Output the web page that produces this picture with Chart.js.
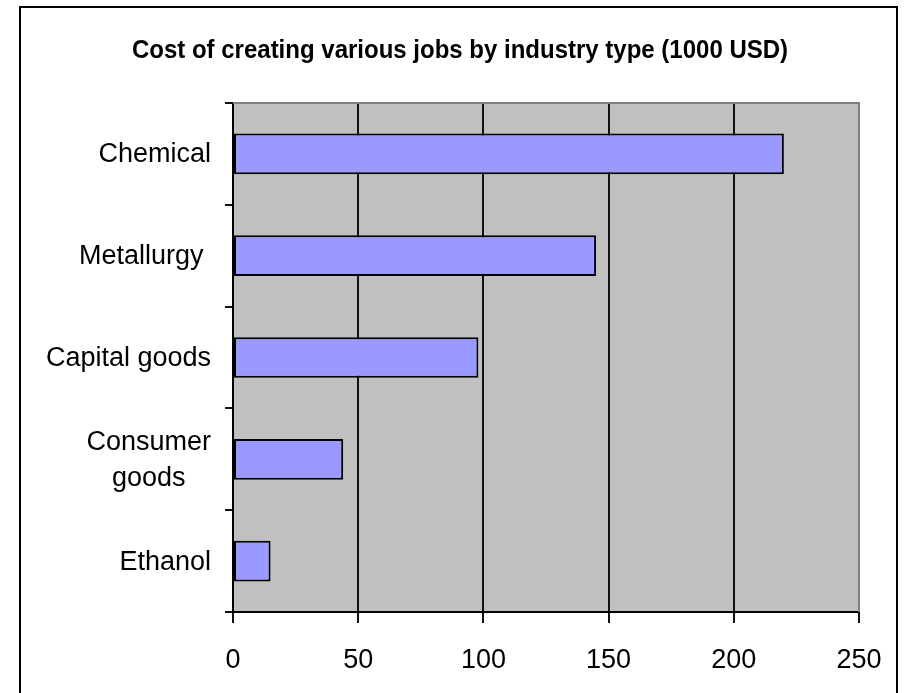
<!DOCTYPE html>
<html lang="en">
<head>
  <meta charset="UTF-8" />
  <title>Cost of creating various jobs by industry type</title>
  <script src="https://cdn.jsdelivr.net/npm/chart.js"></script>
  <style>
    body { margin: 0; background: #fff; }
    #chart { display: block; }
  </style>
</head>
<body>
<canvas id="chart" width="908" height="693"></canvas>

<script>
  const titleText = 'Cost of creating various jobs by industry type (1000 USD)';
  const industries = [['Chemical'], ['Metallurgy '], ['Capital goods'], ['Consumer', 'goods'], ['Ethanol']];
  const costs = [220, 145, 98, 44, 15];
  const xTicks = [0, 50, 100, 150, 200, 250];

  const FONT = "'Liberation Sans', Arial, sans-serif";

  // gray plot area, outer frame, title and the y labels
  const decor = {
    id: 'decor',
    beforeDraw(chart) {
      const { ctx, chartArea: a } = chart;
      ctx.save();
      ctx.fillStyle = '#fff';
      ctx.fillRect(0, 0, chart.width, chart.height);
      ctx.fillStyle = '#C0C0C0';
      ctx.fillRect(a.left, a.top, a.right - a.left, a.bottom - a.top);
      ctx.restore();
    },
    beforeDatasetsDraw(chart) {
      const { ctx, chartArea: a } = chart;
      ctx.save();
      ctx.strokeStyle = '#808080';
      ctx.lineWidth = 2;
      ctx.beginPath();
      ctx.moveTo(a.left, a.top);
      ctx.lineTo(a.right, a.top);
      ctx.lineTo(a.right, a.bottom);
      ctx.stroke();
      ctx.restore();
    },
    afterDraw(chart) {
      const { ctx } = chart;
      ctx.save();
      ctx.strokeStyle = '#000';
      ctx.lineWidth = 2;
      ctx.strokeRect(20, 7, 877, 720);

      // title, a bit stretched vertically like the original
      ctx.save();
      ctx.fillStyle = '#000';
      ctx.font = 'bold 24px ' + FONT;
      ctx.textAlign = 'center';
      ctx.textBaseline = 'alphabetic';
      ctx.translate(460, 58);
      ctx.scale(1, 1.1);
      ctx.fillText(titleText, 0, 0);
      ctx.restore();

      // category labels: block right-aligned, lines centred in the block
      const y = chart.scales.y;
      ctx.fillStyle = '#000';
      ctx.textAlign = 'center';
      ctx.textBaseline = 'middle';
      ctx.font = '27px ' + FONT;
      const right = 211;
      const lh = 36;
      industries.forEach((lines, i) => {
        const cy = y.getPixelForValue(i);
        const w = Math.max(...lines.map(s => ctx.measureText(s).width));
        const cx = right - w / 2;
        lines.forEach((s, j) => {
          ctx.fillText(s, cx, cy + (j - (lines.length - 1) / 2) * lh + 1);
        });
      });
      ctx.restore();
    }
  };

  new Chart(document.getElementById('chart'), {
    type: 'bar',
    data: {
      labels: industries,
      datasets: [{
        data: costs,
        backgroundColor: '#9999FF',
        borderColor: '#000',
        borderWidth: 2,
        borderSkipped: false,
        barPercentage: 0.4,
        categoryPercentage: 1
      }]
    },
    options: {
      indexAxis: 'y',
      responsive: false,
      animation: false,
      layout: { padding: { top: 103, right: 49, left: 0, bottom: 0 } },
      plugins: {
        legend: { display: false },
        title: { display: false },
        tooltip: { enabled: false }
      },
      scales: {
        x: {
          min: 0,
          max: 250,
          afterBuildTicks(scale) { scale.ticks = xTicks.map(v => ({ value: v })); },
          afterFit(scale) { scale.height = 81; },
          border: { color: '#000', width: 2 },
          grid: {
            color: ctx => (ctx.tick && ctx.tick.value === 250 ? '#808080' : '#111'),
            lineWidth: 2,
            tickColor: '#111',
            tickLength: 11
          },
          ticks: {
            color: '#000',
            font: { family: FONT, size: 27 },
            padding: 21,
            maxRotation: 0
          }
        },
        y: {
          afterFit(scale) { scale.width = 233; },
          border: { color: '#000', width: 2 },
          grid: {
            offset: true,
            drawOnChartArea: false,
            color: '#111',
            lineWidth: 2,
            tickLength: 8
          },
          ticks: { display: false }
        }
      }
    },
    plugins: [decor]
  });
</script>
</body>
</html>
